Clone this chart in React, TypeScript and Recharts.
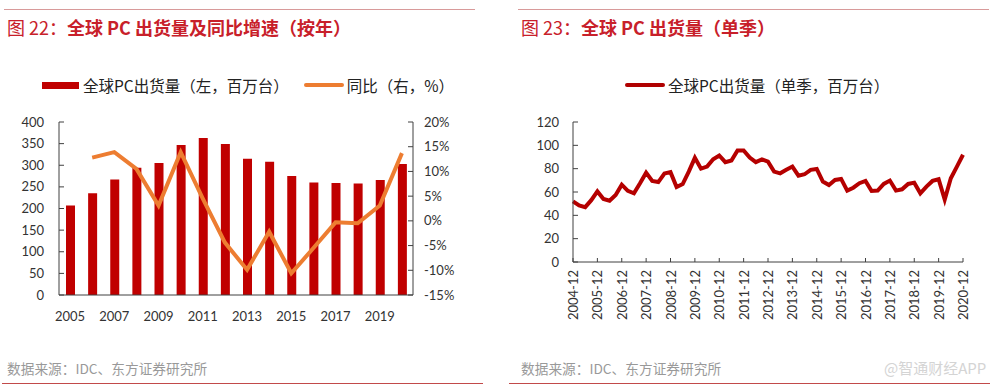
import React from 'react'
import {
  ComposedChart,
  LineChart,
  Bar,
  Line,
  XAxis,
  YAxis,
  Legend,
} from 'recharts'

// annual shipments (left axis, million units) and yoy growth (right axis, %)
const years = ['2005', '2006', '2007', '2008', '2009', '2010', '2011', '2012', '2013', '2014', '2015', '2016', '2017', '2018', '2019', '2020']
const shipments = [207, 235, 267, 294, 305, 347, 363, 349, 315, 308, 275, 260, 259, 258, 266, 303]
const yoy = [null, 12.8, 13.9, 10.5, 3.1, 13.9, 4.5, -4.4, -9.9, -2.2, -10.6, -5.5, -0.3, -0.5, 3.1, 13.7]

// quarterly shipments 2004-12 .. 2020-12 (million units)
const quarters: string[] = []
for (let y = 2004; y <= 2020; y++) {
  for (const m of ['03', '06', '09', '12']) {
    if (y === 2004 && m !== '12') continue
    quarters.push(`${y}-${m}`)
  }
}
const quarterly = [
  52, 48.5, 47, 53, 60.5, 54, 52.5, 57.4, 66.3, 61, 58.9, 67.5, 76.6, 69.5, 68.5, 75.8,
  77, 64.3, 66.8, 77.5, 89.3, 80, 81.8, 88, 91.3, 85.6, 87, 95.6, 95.6, 89.6, 85.6, 88,
  86, 77.5, 76, 79, 81.8, 74, 75.2, 79, 79.8, 69, 66, 70.3, 71.2, 61.2, 63.7, 67.5,
  69.5, 60.9, 61.2, 66.9, 69.8, 61.2, 62.3, 66.9, 68, 58.9, 64.6, 69.5, 70.9, 53.5, 71.8, 81.8,
  91.9,
]

const leftYTicks = [0, 50, 100, 150, 200, 250, 300, 350, 400]
const rightYTicks = [-15, -10, -5, 0, 5, 10, 15, 20]
const qYTicks = [0, 20, 40, 60, 80, 100, 120]

const annualData = years.map((y, i) => ({ year: y, ship: shipments[i], yoy: yoy[i] }))
const quarterData = quarters.map((q, i) => ({ q, v: quarterly[i] }))

const RED = '#c00000'
const ORANGE = '#ed7d31'
const AXIS = '#404040'
const TICK_TEXT = '#333'
const NUM_FONT = 'Lato, "Noto Sans", sans-serif'
const CJK_FONT = '"Noto Sans CJK SC", sans-serif'
const TITLE_RED = '#c8202a'

const tickStyle = { fontSize: 13, fill: TICK_TEXT, fontFamily: NUM_FONT }

function AnnualLegend() {
  return (
    <div style={{ display: 'flex', alignItems: 'center', fontFamily: CJK_FONT, fontSize: 15.5, color: '#222', whiteSpace: 'nowrap', lineHeight: '20px' }}>
      <span style={{ display: 'inline-block', width: 37, height: 7, background: RED, marginRight: 4 }} />
      <span>全球PC出货量（左，百万台）</span>
      <span style={{ display: 'inline-block', width: 40, height: 4, background: ORANGE, borderRadius: 2, marginLeft: 15, marginRight: 3 }} />
      <span>同比（右，%）</span>
    </div>
  )
}

function QuarterLegend() {
  return (
    <div style={{ display: 'flex', alignItems: 'center', fontFamily: CJK_FONT, fontSize: 15.5, color: '#222', whiteSpace: 'nowrap', lineHeight: '20px' }}>
      <span style={{ display: 'inline-block', width: 40, height: 4, background: '#b00000', borderRadius: 2, marginRight: 3 }} />
      <span>全球PC出货量（单季，百万台）</span>
    </div>
  )
}

function RotatedTick(props: any) {
  const { x, y, payload } = props
  return (
    <text
      x={x}
      y={y}
      transform={`rotate(-90, ${x}, ${y})`}
      textAnchor="end"
      dominantBaseline="central"
      fontSize={13}
      fill={TICK_TEXT}
      fontFamily={NUM_FONT}
    >
      {payload.value}
    </text>
  )
}

function Title({ num, text, left }: { num: string; text: string; left: number }) {
  return (
    <div style={{ position: 'absolute', left, top: 14, fontFamily: CJK_FONT, fontSize: 18, color: TITLE_RED, whiteSpace: 'nowrap', lineHeight: '26px' }}>
      <span>图 {num}：</span>
      <span style={{ fontWeight: 700 }}>{text}</span>
    </div>
  )
}

function Footer({ left }: { left: number }) {
  return (
    <div style={{ position: 'absolute', left, top: 359, fontFamily: CJK_FONT, fontSize: 13.7, color: '#999', whiteSpace: 'nowrap', lineHeight: '18px' }}>
      数据来源：IDC、东方证券研究所
    </div>
  )
}

export default function App() {
  return (
    <div style={{ position: 'absolute', left: 0, top: 0, width: 1000, height: 389, background: '#fff', overflow: 'hidden' }}>
      {/* rules */}
      <div style={{ position: 'absolute', left: 4, top: 9, width: 471, height: 1, background: '#d89a9a' }} />
      <div style={{ position: 'absolute', left: 518, top: 9, width: 471, height: 1, background: '#d89a9a' }} />
      <div style={{ position: 'absolute', left: 2, top: 383, width: 481, height: 1, background: '#c24a4a' }} />
      <div style={{ position: 'absolute', left: 509, top: 383, width: 481, height: 1, background: '#c24a4a' }} />

      <Title num="22" text="全球 PC 出货量及同比增速（按年）" left={7} />
      <Title num="23" text="全球 PC 出货量（单季）" left={521} />

      {/* left: annual */}
      <div style={{ position: 'absolute', left: 0, top: 100 }}>
        <ComposedChart width={480} height={230} data={annualData} margin={{ top: 22, right: 0, left: 1, bottom: 0 }} barSize={9}>
          <Legend
            verticalAlign="middle"
            align="center"
            content={() => <AnnualLegend />}
            wrapperStyle={{ position: 'absolute', left: 42, top: -25, width: 'auto', height: 20 }}
          />
          <XAxis
            dataKey="year"
            interval={1}
            tickLine={false}
            axisLine={{ stroke: AXIS }}
            tick={tickStyle}
            tickMargin={11}
            height={35}
          />
          <YAxis
            yAxisId="left"
            domain={[0, 400]}
            ticks={leftYTicks}
            width={58}
            tickSize={-5}
            tickMargin={20}
            axisLine={{ stroke: AXIS }}
            tickLine={{ stroke: AXIS }}
            tick={tickStyle}
            interval={0}
          />
          <YAxis
            yAxisId="right"
            orientation="right"
            domain={[-15, 20]}
            ticks={rightYTicks}
            tickFormatter={(v: number) => `${v}%`}
            width={67}
            tickSize={-5}
            tickMargin={16}
            axisLine={{ stroke: AXIS }}
            tickLine={{ stroke: AXIS }}
            tick={{ ...tickStyle, textAnchor: 'start' }}
            interval={0}
          />
          <Bar yAxisId="left" dataKey="ship" fill={RED} isAnimationActive={false} />
          <Line
            yAxisId="right"
            dataKey="yoy"
            stroke={ORANGE}
            strokeWidth={4}
            dot={false}
            isAnimationActive={false}
          />
        </ComposedChart>
      </div>

      {/* right: quarterly */}
      <div style={{ position: 'absolute', left: 500, top: 100 }}>
        <LineChart width={490} height={240} data={quarterData} margin={{ top: 22, right: 27, left: 0, bottom: 0 }}>
          <Legend
            verticalAlign="middle"
            align="center"
            content={() => <QuarterLegend />}
            wrapperStyle={{ position: 'absolute', left: 125, top: -25, width: 'auto', height: 20 }}
          />
          <XAxis
            dataKey="q"
            interval={3}
            tickSize={-4}
            tickMargin={12}
            axisLine={{ stroke: AXIS }}
            tickLine={{ stroke: AXIS }}
            tick={<RotatedTick />}
            height={78}
          />
          <YAxis
            domain={[0, 120]}
            ticks={qYTicks}
            width={73}
            tickSize={-5}
            tickMargin={19}
            axisLine={{ stroke: AXIS }}
            tickLine={{ stroke: AXIS }}
            tick={tickStyle}
            interval={0}
          />
          <Line
            dataKey="v"
            stroke="#b50000"
            strokeWidth={4}
            dot={false}
            isAnimationActive={false}
          />
        </LineChart>
      </div>

      <Footer left={7} />
      <Footer left={521} />
      <div style={{ position: 'absolute', left: 884, top: 359, fontFamily: CJK_FONT, fontSize: 15, color: '#d4d4d4', whiteSpace: 'nowrap', lineHeight: '18px' }}>
        @智通财经APP
      </div>
    </div>
  )
}
